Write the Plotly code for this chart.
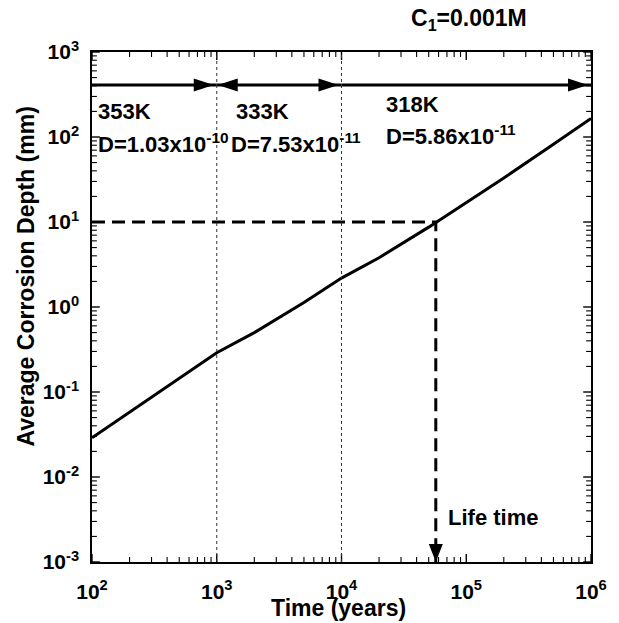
import plotly.graph_objects as go

# ---- data ----
years = [100, 200, 500, 1000, 2000, 5000, 10000, 20000, 50000, 100000, 200000, 500000, 1000000]
depth = [0.029, 0.058, 0.145, 0.29, 0.50, 1.13, 2.19, 3.8, 8.7, 16.8, 33, 82, 165]

boundaries = [1000, 10000]            # temperature change times (years)
span_start = [100, 1000, 10000]
span_end = [1000, 10000, 1000000]
temps = ["353K", "333K", "318K"]
diffs = ["D=1.03x10<sup>-10</sup>", "D=7.53x10<sup>-11</sup>", "D=5.86x10<sup>-11</sup>"]
arrow_level = 410

design_depth = 10
life_time = 57000

x_tickvals = [1e2, 1e3, 1e4, 1e5, 1e6]
x_ticktext = ["10<sup>2</sup>", "10<sup>3</sup>", "10<sup>4</sup>", "10<sup>5</sup>", "10<sup>6</sup>"]
y_tickvals = [1e-3, 1e-2, 1e-1, 1e0, 1e1, 1e2, 1e3]
y_ticktext = ["10<sup>-3</sup>", "10<sup>-2</sup>", "10<sup>-1</sup>", "10<sup>0</sup>",
              "10<sup>1</sup>", "10<sup>2</sup>", "10<sup>3</sup>"]

FONT = "Liberation Sans, Arial, sans-serif"
X_RANGE = [2, 6]
Y_RANGE = [-3, 3]
W, H = 619, 623
M = dict(l=92, r=16, t=52, b=61)
PLOT_W = W - M["l"] - M["r"]
PLOT_H = H - M["t"] - M["b"]


def minor_vals(lo, hi):
    out = []
    for e in range(lo, hi):
        for k in range(2, 10):
            out.append(k * 10 ** e)
    return out


fig = go.Figure()

# main curve
fig.add_trace(go.Scatter(x=years, y=depth, mode="lines",
                         line=dict(color="black", width=3), showlegend=False,
                         hoverinfo="skip"))

# design depth / life time dashed guide
fig.add_trace(go.Scatter(x=[years[0], life_time, life_time],
                         y=[design_depth, design_depth, y_tickvals[0]],
                         mode="lines", line=dict(color="black", width=3, dash="13px,7px"),
                         showlegend=False, hoverinfo="skip"))

# top span arrows (lines)
for s, e in zip(span_start, span_end):
    fig.add_trace(go.Scatter(x=[s, e], y=[arrow_level, arrow_level], mode="lines",
                             line=dict(color="black", width=3), showlegend=False,
                             hoverinfo="skip"))


# inside tick marks on all four sides, drawn as line segments
def tick_trace(xv, yv, length_px, width, color):
    fx = 10 ** (length_px * (X_RANGE[1] - X_RANGE[0]) / PLOT_W)
    fy = 10 ** (length_px * (Y_RANGE[1] - Y_RANGE[0]) / PLOT_H)
    xmin, xmax = 10 ** X_RANGE[0], 10 ** X_RANGE[1]
    ymin, ymax = 10 ** Y_RANGE[0], 10 ** Y_RANGE[1]
    xs, ys = [], []
    for v in xv:
        xs += [v, v, None, v, v, None]
        ys += [ymin, ymin * fy, None, ymax, ymax / fy, None]
    for v in yv:
        xs += [xmin, xmin * fx, None, xmax, xmax / fx, None]
        ys += [v, v, None, v, v, None]
    fig.add_trace(go.Scatter(x=xs, y=ys, mode="lines", connectgaps=False,
                             line=dict(color=color, width=width), showlegend=False,
                             hoverinfo="skip", cliponaxis=False))


tick_trace(x_tickvals, y_tickvals, 8, 1.4, "black")
tick_trace(minor_vals(2, 6), minor_vals(-3, 3), 5, 1.1, "black")

shapes = []
# vertical dotted boundaries
for b in boundaries:
    shapes.append(dict(type="line", xref="x", yref="paper", x0=b, x1=b, y0=0, y1=1,
                       line=dict(color="#333333", width=1, dash="dot")))

RIGHT_HEAD = "M-3,0 L-23,-6.5 L-23,6.5 Z"
LEFT_HEAD = "M1,0 L21,-6.5 L21,6.5 Z"
DOWN_HEAD = "M0,0 L-7,18 L7,18 Z"


def head(xa, ya, path):
    return dict(type="path", xref="x", yref="y", xsizemode="pixel", ysizemode="pixel",
                xanchor=xa, yanchor=ya, path=path, fillcolor="black",
                line=dict(color="black", width=0))


shapes.append(head(span_end[0], arrow_level, RIGHT_HEAD))
shapes.append(head(span_start[1], arrow_level, LEFT_HEAD))
shapes.append(head(span_end[1], arrow_level, RIGHT_HEAD))
shapes.append(head(span_end[2], arrow_level, RIGHT_HEAD))
shapes.append(head(life_time, y_tickvals[0], DOWN_HEAD))

annotations = []


def txt(x, y, s, xanchor="left", size=22):
    annotations.append(dict(x=x, y=y, xref="paper", yref="paper", text=s, showarrow=False,
                            xanchor=xanchor, yanchor="middle",
                            font=dict(family=FONT, size=size, color="black", weight="bold")))


txt(0.008, 0.883, temps[0])
txt(0.008, 0.822, diffs[0])
txt(0.285, 0.883, temps[1])
txt(0.275, 0.822, diffs[1])
txt(0.586, 0.897, temps[2])
txt(0.586, 0.838, diffs[2])
txt(0.635, 1.063, "C<sub>1</sub>=0.001M", size=23)
txt(0.71, 0.087, "Life time")

# axis titles as annotations
annotations.append(dict(x=-0.133, y=0.559, xref="paper", yref="paper",
                        text="Average Corrosion Depth (mm)", showarrow=False, textangle=-90,
                        xanchor="center", yanchor="middle",
                        font=dict(family=FONT, size=23, color="black", weight="bold")))
annotations.append(dict(x=0.494, y=-0.091, xref="paper", yref="paper",
                        text="Time (years)", showarrow=False,
                        xanchor="center", yanchor="middle",
                        font=dict(family=FONT, size=23, color="black", weight="bold")))

tickfont = dict(family=FONT, size=21, color="black", weight="bold")
fig.update_xaxes(type="log", range=X_RANGE, tickmode="array", tickvals=x_tickvals,
                 ticktext=x_ticktext, ticks="", showgrid=False, zeroline=False,
                 showline=True, linecolor="black", linewidth=1.5, mirror=True,
                 tickfont=tickfont, ticklabelstandoff=10, fixedrange=True)
fig.update_yaxes(type="log", range=Y_RANGE, tickmode="array", tickvals=y_tickvals,
                 ticktext=y_ticktext, ticks="", showgrid=False, zeroline=False,
                 showline=True, linecolor="black", linewidth=1.5, mirror=True,
                 tickfont=tickfont, ticklabelstandoff=7, fixedrange=True)

fig.update_layout(width=W, height=H, margin=M,
                  plot_bgcolor="white", paper_bgcolor="white",
                  shapes=shapes, annotations=annotations, showlegend=False,
                  font=dict(family=FONT, color="black"))

fig.write_html("out.html")
